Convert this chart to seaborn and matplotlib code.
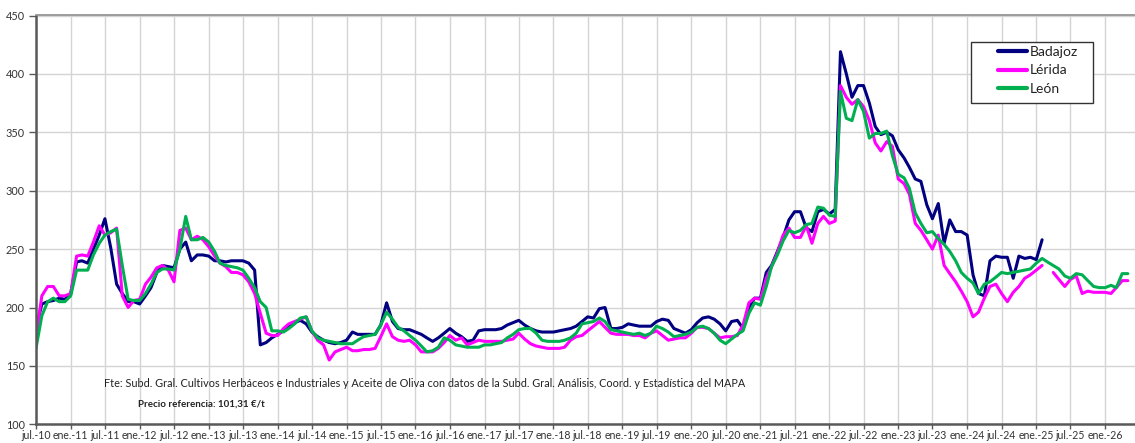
import numpy as np
import pandas as pd
import matplotlib
matplotlib.use('Agg')
import matplotlib.pyplot as plt
from matplotlib.lines import Line2D
from matplotlib.patches import Rectangle
import seaborn as sns

nan = np.nan

# monthly readings, jul-2010 .. may-2026 (191 months)
fechas = pd.date_range('2010-07-01', periods=191, freq='MS')

badajoz = [
    182, 203, 205, 206, 208, 207, 212, 239, 240, 238,
    250, 262, 276, 251, 220, 212, 205, 205, 203, 210,
    217, 230, 236, 235, 234, 250, 256, 240, 245, 245,
    244, 240, 240, 239, 240, 240, 240, 238, 232, 168,
    170, 174, 177, 180, 183, 187, 189, 186, 179, 175,
    172, 170, 169, 170, 172, 179, 177, 177, 177, 177,
    185, 204, 188, 182, 181, 181, 179, 177, 174, 171,
    174, 178, 182, 178, 175, 171, 172, 180, 181, 181,
    181, 182, 185, 187, 189, 185, 182, 180, 179, 179,
    179, 180, 181, 182, 184, 188, 192, 191, 199, 200,
    182, 182, 183, 186, 185, 184, 184, 184, 188, 190,
    189, 182, 180, 178, 181, 187, 191, 192, 190, 186,
    180, 188, 189, 182, 200, 208, 208, 230, 236, 248,
    260, 275, 282, 282, 268, 265, 282, 284, 280, 284,
    419, 400, 380, 390, 390, 375, 355, 348, 350, 347,
    335, 328, 320, 310, 308, 288, 276, 289, 255, 275,
    265, 265, 262, 228, 212, 210, 240, 244, 243, 243,
    225, 244, 242, 243, 241, 258, nan, nan, nan, nan,
    nan, nan, nan, nan, nan, nan, nan, nan, nan, nan, nan,
]

lerida = [
    175, 210, 218, 218, 210, 210, 212, 244, 245, 244,
    256, 270, 262, 264, 268, 210, 200, 206, 207, 220,
    226, 234, 236, 232, 222, 266, 268, 258, 261, 258,
    252, 244, 238, 235, 230, 230, 228, 222, 212, 195,
    178, 176, 176, 182, 186, 188, 190, 192, 180, 172,
    168, 155, 162, 164, 166, 163, 163, 164, 164, 165,
    175, 186, 175, 172, 171, 172, 168, 162, 162, 162,
    165, 170, 176, 172, 174, 168, 170, 172, 171, 171,
    171, 171, 172, 173, 178, 173, 169, 167, 166, 165,
    165, 165, 166, 172, 175, 176, 180, 184, 188, 183,
    178, 177, 177, 177, 176, 176, 174, 178, 180, 176,
    172, 173, 174, 174, 178, 183, 183, 182, 178, 174,
    175, 175, 176, 185, 204, 208, 207, 225, 235, 247,
    262, 268, 260, 260, 270, 255, 272, 278, 272, 274,
    390, 380, 374, 378, 372, 360, 341, 334, 342, 338,
    310, 306, 297, 272, 266, 258, 250, 262, 236, 229,
    222, 214, 205, 192, 196, 208, 218, 220, 212, 205,
    213, 218, 225, 228, 232, 236, nan, 230, 224, 218,
    224, 227, 212, 214, 213, 213, 213, 212, 217, 223, 223,
]

leon = [
    165, 193, 205, 208, 205, 205, 210, 232, 232, 232,
    245, 255, 262, 265, 267, 236, 207, 206, 206, 212,
    220, 230, 233, 233, 232, 250, 278, 258, 258, 260,
    256, 248, 238, 236, 235, 234, 232, 225, 217, 205,
    200, 180, 180, 179, 182, 186, 191, 192, 180, 174,
    172, 171, 170, 169, 169, 169, 172, 175, 176, 177,
    185, 196, 190, 183, 180, 176, 172, 167, 162, 163,
    166, 174, 172, 168, 167, 166, 166, 166, 168, 168,
    169, 170, 174, 177, 181, 182, 182, 178, 172, 171,
    171, 171, 172, 174, 178, 186, 187, 188, 191, 188,
    181, 180, 179, 178, 177, 178, 176, 178, 184, 182,
    179, 175, 176, 177, 179, 183, 184, 182, 178, 172,
    169, 173, 177, 180, 195, 204, 202, 218, 235, 245,
    257, 266, 264, 266, 271, 272, 286, 285, 279, 278,
    385, 362, 360, 378, 368, 345, 349, 349, 351, 330,
    314, 311, 302, 281, 272, 264, 265, 259, 254, 248,
    240, 230, 225, 221, 212, 220, 222, 226, 230, 229,
    230, 231, 232, 233, 238, 242, 239, 236, 233, 227,
    225, 229, 228, 223, 218, 217, 217, 219, 217, 229, 229,
]

zonas = ['Badajoz', 'Lérida', 'León']
colores = ['#000080', '#FF00FF', '#00B050']

etiquetas = [
    'jul.-10', 'ene.-11', 'jul.-11', 'ene.-12', 'jul.-12', 'ene.-13', 'jul.-13', 'ene.-14',
    'jul.-14', 'ene.-15', 'jul.-15', 'ene.-16', 'jul.-16', 'ene.-17', 'jul.-17', 'ene.-18',
    'jul.-18', 'ene.-19', 'jul.-19', 'ene.-20', 'jul.-20', 'ene.-21', 'jul.-21', 'ene.-22',
    'jul.-22', 'ene.-23', 'jul.-23', 'ene.-24', 'jul.-24', 'ene.-25', 'jul.-25', 'ene.-26',
]
fechas_etiquetas = pd.date_range('2010-07-01', '2026-01-01', freq='6MS')

fuente = ('Fte: Subd. Gral. Cultivos Herbáceos e Industriales y Aceite de Oliva con datos '
          'de la Subd. Gral. Análisis, Coord. y Estadística del MAPA')
precio_ref = 'Precio referencia: 101,31 €/t'


def main():
    sns.set_theme(style='whitegrid')
    plt.rcParams['font.family'] = ['Lato', 'DejaVu Sans']

    df = pd.DataFrame({'fecha': fechas, 'Badajoz': badajoz, 'Lérida': lerida, 'León': leon})
    largo = df.melt(id_vars='fecha', var_name='zona', value_name='precio')
    # split each series where there are gaps so lines break there
    largo['tramo'] = largo.groupby('zona')['precio'].transform(lambda s: s.isna().cumsum())
    largo = largo.dropna()

    fig = plt.figure(figsize=(11.35, 4.43), dpi=100)
    ax = fig.add_axes([36 / 1135, 18.7 / 443, 1099 / 1135, 408.8 / 443])

    sns.lineplot(data=largo, x='fecha', y='precio', hue='zona', hue_order=zonas,
                 units='tramo', estimator=None, sort=True,
                 palette=dict(zip(zonas, colores)), linewidth=2.2, legend=False, ax=ax)

    ax.set_ylim(100, 450)
    ax.set_yticks(range(100, 451, 50))
    ax.set_xlim(pd.Timestamp('2010-07-01'), pd.Timestamp('2026-06-08'))
    ax.set_xticks(fechas_etiquetas)
    ax.set_xticklabels(etiquetas)
    ax.set_xlabel('')
    ax.set_ylabel('')

    ax.grid(True, color='#d4d4d4', linewidth=1)
    ax.tick_params(axis='y', direction='out', length=5, width=1, color='#595959',
                   labelsize=7.8, labelcolor='#333333', pad=3, left=True)
    ax.tick_params(axis='x', direction='out', length=3.5, width=1, color='#595959',
                   labelsize=7.6, labelcolor='#333333', pad=0.5, bottom=True)
    for side in ['left', 'bottom']:
        ax.spines[side].set_color('#595959')
        ax.spines[side].set_linewidth(1.8)
    ax.spines['top'].set_color('#8c8c8c')
    ax.spines['top'].set_linewidth(1.2)
    ax.spines['right'].set_visible(False)
    ax.set_facecolor('white')

    # legend box drawn by hand so it keeps the wide empty margins of the original
    ax.add_patch(Rectangle((0.851, 0.786), 0.111, 0.149, transform=ax.transAxes,
                           facecolor='white', edgecolor='#333333', linewidth=1.0, zorder=5))
    handles = [Line2D([0], [0], color=c, linewidth=3) for c in colores]
    leg = ax.legend(handles, zonas, loc='upper left', bbox_to_anchor=(0.875, 0.925),
                    fontsize=10, frameon=False, handlelength=2.15, handletextpad=0.15,
                    labelspacing=0.45, borderpad=0.0, borderaxespad=0)
    leg.set_zorder(6)
    for t in leg.get_texts():
        t.set_color('#222222')

    ax.text(0.0619, 0.0986, fuente, transform=ax.transAxes, fontsize=7.8,
            va='center', ha='left', color='#222222')
    ax.text(0.0928, 0.0497, precio_ref, transform=ax.transAxes, fontsize=7.0,
            fontweight='bold', va='center', ha='left', color='#222222')

    fig.savefig('out.png', dpi=100, facecolor='white')


if __name__ == '__main__':
    main()
